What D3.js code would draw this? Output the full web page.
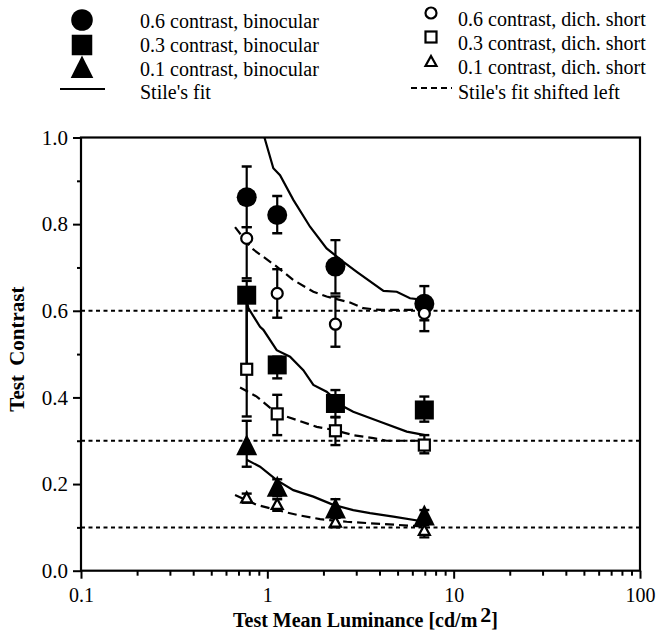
<!DOCTYPE html>
<html>
<head>
<meta charset="utf-8">
<script src="https://cdn.jsdelivr.net/npm/d3@7"></script>
<style>
  html, body { margin: 0; padding: 0; background: #fff; }
  svg text { font-family: "Liberation Serif", "Times New Roman", serif; fill: #000; }
</style>
</head>
<body>
<svg id="chart" width="661" height="631"></svg>
<script>
// ---------- DATA ----------
const luminance = [0.775, 1.13, 2.32, 6.96];

// binocular (filled markers)
const bin06 = [0.862, 0.821, 0.702, 0.616];
const bin06Lo = [0.793, 0.779, 0.640, 0.578];
const bin06Hi = [0.933, 0.865, 0.763, 0.657];

const bin03 = [0.636, 0.475, 0.386, 0.371];
const bin03Lo = [0.465, 0.444, 0.355, 0.344];
const bin03Hi = [0.669, 0.494, 0.417, 0.402];

const bin01 = [0.286, 0.190, 0.140, 0.124];
const bin01Lo = [0.240, 0.172, 0.122, 0.110];
const bin01Hi = [0.346, 0.211, 0.165, 0.140];

// dichoptic short (open markers)
const dich06 = [0.767, 0.640, 0.569, 0.594];
const dich06Lo = [0.675, 0.584, 0.517, 0.553];
const dich06Hi = [0.793, 0.696, 0.633, 0.612];

const dich03 = [0.465, 0.362, 0.323, 0.290];
const dich03Lo = [0.356, 0.313, 0.290, 0.271];
const dich03Hi = [0.630, 0.406, 0.354, 0.313];

const dich01 = [0.167, 0.152, 0.111, 0.092];
const dich01Lo = [0.157, 0.138, 0.100, 0.077];
const dich01Hi = [0.178, 0.165, 0.122, 0.105];

// Stile's fit (solid)
const fit06X = [0.965, 1.077, 1.17, 1.379, 1.695, 2.08, 2.56, 3.02, 4.20, 4.95, 5.83, 6.88];
const fit06Y = [1.000, 0.929, 0.913, 0.856, 0.794, 0.744, 0.713, 0.690, 0.646, 0.644, 0.629, 0.625];
const fit03X = [0.775, 0.791, 0.914, 0.952, 1.123, 1.324, 1.56, 1.766, 2.08, 2.56, 2.89, 4.03, 5.60, 7.02];
const fit03Y = [0.625, 0.606, 0.563, 0.556, 0.509, 0.494, 0.463, 0.429, 0.413, 0.379, 0.367, 0.344, 0.321, 0.313];
const fit01X = [0.775, 0.914, 1.123, 1.379, 1.766, 2.26, 2.89, 3.56, 4.75, 7.02];
const fit01Y = [0.256, 0.240, 0.209, 0.186, 0.171, 0.152, 0.140, 0.133, 0.125, 0.113];

// Stile's fit shifted left (dashed)
const sh06X = [0.671, 0.825, 1.123, 1.379, 1.766, 2.08, 2.78, 3.27, 4.03, 6.88];
const sh06Y = [0.793, 0.744, 0.702, 0.671, 0.644, 0.633, 0.619, 0.606, 0.602, 0.602];
const sh03X = [0.714, 0.877, 1.123, 1.438, 1.842, 2.26, 2.89, 3.71, 4.37, 7.02];
const sh03Y = [0.423, 0.402, 0.363, 0.348, 0.332, 0.325, 0.313, 0.306, 0.300, 0.300];
const sh01X = [0.671, 0.877, 1.123, 1.438, 1.92, 2.67, 4.03, 7.02];
const sh01Y = [0.175, 0.152, 0.140, 0.129, 0.119, 0.113, 0.108, 0.102];

// reference contrast levels (dotted)
const refLevels = [0.6, 0.3, 0.1];

// axes
const xTickLabels = [0.1, 1, 10, 100];
const yTickLabels = [0.0, 0.2, 0.4, 0.6, 0.8, 1.0];
const yMinorTicks = [0.1, 0.3, 0.5, 0.7, 0.9];

const legendLeft = ["0.6 contrast, binocular", "0.3 contrast, binocular", "0.1 contrast, binocular", "Stile's fit"];
const legendRight = ["0.6 contrast, dich. short", "0.3 contrast, dich. short", "0.1 contrast, dich. short", "Stile's fit shifted left"];

// ---------- LAYOUT ----------
const svg = d3.select("#chart");
const L = 81, R = 640, T = 137.5, B = 570.7;
const x = d3.scaleLog().domain([0.1, 100]).range([L, R]);
const y = d3.scaleLinear().domain([0, 1]).range([B, T]);

// clip
svg.append("clipPath").attr("id", "plotclip").append("rect")
  .attr("x", L).attr("y", T).attr("width", R - L).attr("height", B - T);

// X axis ticks
const xMinor = [];
[0.1, 1, 10].forEach(d => { for (let k = 2; k <= 9; k++) xMinor.push(d * k); });
const gx = svg.append("g").attr("transform", `translate(0,${B})`);
gx.call(d3.axisBottom(x).tickValues(xMinor).tickSize(5).tickFormat(""));
gx.append("g").call(d3.axisBottom(x).tickValues(xTickLabels).tickSize(8).tickPadding(9)
  .tickFormat(d => d3.format("~g")(d)));
gx.selectAll(".domain").remove();
gx.selectAll("line").attr("stroke", "#000").attr("stroke-width", 2);
gx.selectAll("text").style("font-size", "20px").attr("dy", "0.71em");

// Y axis ticks
const gy = svg.append("g").attr("transform", `translate(${L},0)`);
gy.call(d3.axisLeft(y).tickValues(yMinorTicks).tickSize(4).tickFormat(""));
gy.append("g").call(d3.axisLeft(y).tickValues(yTickLabels).tickSize(8).tickPadding(5)
  .tickFormat(d3.format(".1f")));
gy.selectAll(".domain").remove();
gy.selectAll("line").attr("stroke", "#000").attr("stroke-width", 2);
gy.selectAll("text").style("font-size", "21px");

// frame
svg.append("rect").attr("x", L).attr("y", T).attr("width", R - L).attr("height", B - T)
  .attr("fill", "none").attr("stroke", "#000").attr("stroke-width", 2.2);

const plot = svg.append("g").attr("clip-path", "url(#plotclip)");

// dotted reference lines
plot.selectAll(".ref").data(refLevels).enter().append("line")
  .attr("x1", L).attr("x2", R).attr("y1", d => y(d)).attr("y2", d => y(d))
  .attr("stroke", "#000").attr("stroke-width", 2).attr("stroke-dasharray", "4,3.5");

// curves
const line = d3.line().x(d => x(d[0])).y(d => y(d[1]));
const fits = [[fit06X, fit06Y], [fit03X, fit03Y], [fit01X, fit01Y]];
const shifted = [[sh06X, sh06Y], [sh03X, sh03Y], [sh01X, sh01Y]];
fits.forEach(([xs, ys]) => {
  plot.append("path").datum(d3.zip(xs, ys)).attr("d", line)
    .attr("fill", "none").attr("stroke", "#000").attr("stroke-width", 2.2);
});
shifted.forEach(([xs, ys]) => {
  plot.append("path").datum(d3.zip(xs, ys)).attr("d", line)
    .attr("fill", "none").attr("stroke", "#000").attr("stroke-width", 2.2).attr("stroke-dasharray", "9,5");
});

// error bars
function errorBars(vals, lo, hi, cap) {
  const g = plot.append("g");
  luminance.forEach((lx, i) => {
    const cx = x(lx);
    g.append("line").attr("x1", cx).attr("x2", cx).attr("y1", y(lo[i])).attr("y2", y(hi[i]))
      .attr("stroke", "#000").attr("stroke-width", 2.2);
    [lo[i], hi[i]].forEach(v => {
      g.append("line").attr("x1", cx - cap).attr("x2", cx + cap).attr("y1", y(v)).attr("y2", y(v))
        .attr("stroke", "#000").attr("stroke-width", 2.4);
    });
  });
}
const cap = 5;
errorBars(bin06, bin06Lo, bin06Hi, cap);
errorBars(bin03, bin03Lo, bin03Hi, cap);
errorBars(bin01, bin01Lo, bin01Hi, cap);
errorBars(dich06, dich06Lo, dich06Hi, cap);
errorBars(dich03, dich03Lo, dich03Hi, cap);
errorBars(dich01, dich01Lo, dich01Hi, cap);

// marker shapes
function triPath(w, h) {
  return `M0,${-h * 0.6}L${w / 2},${h * 0.4}L${-w / 2},${h * 0.4}Z`;
}
function drawMarker(g, type, filled, cx, cy, big) {
  let el;
  const k = big ? 1.08 : 1;
  if (type === "circle") {
    el = g.append("circle").attr("cx", cx).attr("cy", cy).attr("r", filled ? 10 * k : 5.5);
  } else if (type === "square") {
    const s = filled ? 19 * k : 11;
    el = g.append("rect").attr("x", cx - s / 2).attr("y", cy - s / 2).attr("width", s).attr("height", s);
  } else {
    el = g.append("path").attr("transform", `translate(${cx},${cy})`)
      .attr("d", filled ? triPath(21 * k, 21 * k) : triPath(11, 10));
  }
  if (filled) el.attr("fill", "#000").attr("stroke", "none");
  else el.attr("fill", "#fff").attr("stroke", "#000").attr("stroke-width", 2.2);
  return el;
}
const markers = plot.append("g");
[[bin06, "circle"], [bin03, "square"], [bin01, "tri"]].forEach(([vals, type]) => {
  vals.forEach((v, i) => drawMarker(markers, type, true, x(luminance[i]), y(v)));
});
[[dich06, "circle"], [dich03, "square"], [dich01, "tri"]].forEach(([vals, type]) => {
  vals.forEach((v, i) => drawMarker(markers, type, false, x(luminance[i]), y(v)));
});

// ---------- LEGEND ----------
const leg = svg.append("g");
const lTypes = ["circle", "square", "tri"];
const lSymY = [20, 45, 69];
const lTextY = [28, 52, 76, 99];
const rSymY = [13, 37, 62];
const rTextY = [26, 50, 74, 99];
lTypes.forEach((t, i) => drawMarker(leg, t, true, 82, lSymY[i], true));
lTypes.forEach((t, i) => drawMarker(leg, t, false, 431, rSymY[i]));
leg.append("line").attr("x1", 60).attr("x2", 105).attr("y1", 89).attr("y2", 89)
  .attr("stroke", "#000").attr("stroke-width", 2.2);
leg.append("line").attr("x1", 411).attr("x2", 452).attr("y1", 88).attr("y2", 88)
  .attr("stroke", "#000").attr("stroke-width", 2.2).attr("stroke-dasharray", "6,4");
legendLeft.forEach((t, i) => leg.append("text").attr("x", 140).attr("y", lTextY[i])
  .style("font-size", "20px").text(t));
legendRight.forEach((t, i) => leg.append("text").attr("x", 458).attr("y", rTextY[i])
  .style("font-size", "20px").text(t));

// ---------- AXIS TITLES ----------
const xt = svg.append("text").attr("x", (L + R) / 2 + 5).attr("y", 627)
  .attr("text-anchor", "middle").style("font-size", "20px").style("font-weight", "bold");
xt.append("tspan").text("Test Mean Luminance [cd/m");
xt.append("tspan").attr("dy", -5).attr("dx", 3).style("font-size", "22px").text("2");
xt.append("tspan").attr("dy", 5).text("]");

svg.append("text").attr("transform", `translate(24,${(T + B) / 2 - 5}) rotate(-90)`)
  .attr("text-anchor", "middle").style("font-size", "21px").style("font-weight", "bold")
  .style("word-spacing", "4px")
  .text("Test Contrast");
</script>
</body>
</html>
